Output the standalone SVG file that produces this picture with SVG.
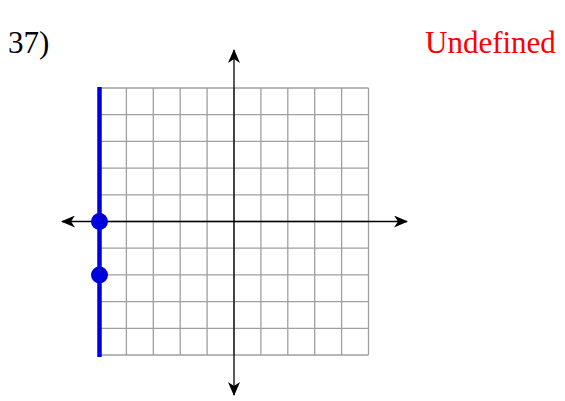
<svg xmlns="http://www.w3.org/2000/svg" width="565" height="401" viewBox="0 0 565 401">
<style>
.grid{stroke:#a0a0a0;stroke-width:1.3;fill:none}
.axis{stroke:#000;stroke-width:1.3;fill:none}
.lbl{font-family:"Liberation Serif","Times New Roman",serif}
</style>
<defs>
<marker id="ah" viewBox="0 0 14 12" refX="13" refY="6" markerWidth="14" markerHeight="12" markerUnits="userSpaceOnUse" orient="auto">
<path d="M0,0 L14,6 L0,12 L4,6 Z" fill="#000"/>
</marker>
</defs>
<rect width="565" height="401" fill="#fff"/>
<text class="lbl" x="8" y="53" font-size="31" fill="#000">37)</text>
<text class="lbl" x="425" y="53" font-size="31" fill="#ff0000">Undefined</text>
<g id="grid">
<path class="grid" d="M99.5,88V355 M126.4,88V355 M153.3,88V355 M180.2,88V355 M207.1,88V355 M234,88V355 M260.9,88V355 M287.8,88V355 M314.7,88V355 M341.6,88V355 M368.5,88V355"/>
<path class="grid" d="M99.5,88H368.5 M99.5,114.7H368.5 M99.5,141.4H368.5 M99.5,168.1H368.5 M99.5,194.8H368.5 M99.5,221.5H368.5 M99.5,248.2H368.5 M99.5,274.9H368.5 M99.5,301.6H368.5 M99.5,328.3H368.5 M99.5,355H368.5"/>
</g>
<g id="connectors">
<line class="axis" x1="234" y1="221.5" x2="234" y2="50" marker-end="url(#ah)"/>
<line class="axis" x1="234" y1="221.5" x2="234" y2="395" marker-end="url(#ah)"/>
<line class="axis" x1="234" y1="221.5" x2="62" y2="221.5" marker-end="url(#ah)"/>
<line class="axis" x1="234" y1="221.5" x2="407" y2="221.5" marker-end="url(#ah)"/>
</g>
<g id="line">
<line x1="99.5" y1="87" x2="99.5" y2="357" stroke="#0000dd" stroke-width="4.5"/>
<circle cx="99.5" cy="221.5" r="8.5" fill="#0000dd"/>
<circle cx="99.5" cy="274.9" r="8.5" fill="#0000dd"/>
</g>
</svg>
